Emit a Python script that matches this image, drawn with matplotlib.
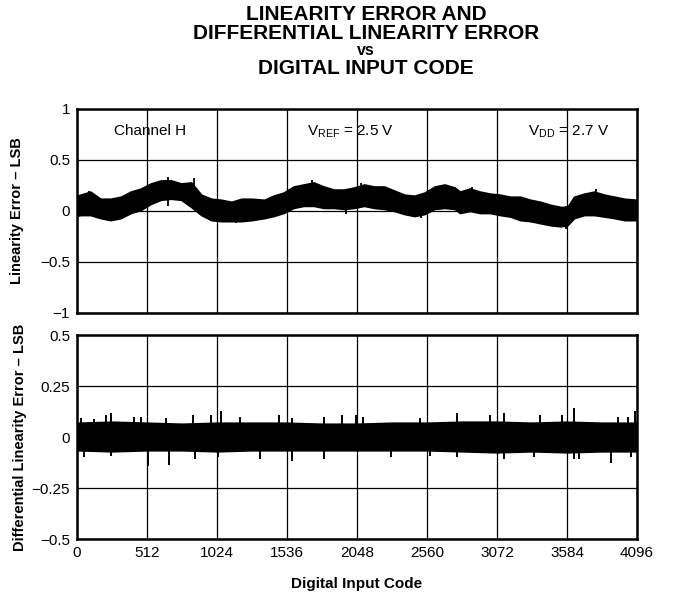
import numpy as np
import matplotlib.pyplot as plt
from matplotlib.patches import Rectangle

plt.rcParams['font.family'] = ['Liberation Sans', 'DejaVu Sans']
plt.rcParams['mathtext.fontset'] = 'custom'
plt.rcParams['mathtext.rm'] = 'Liberation Sans'

# Linearity error envelope
le_code = [0, 25, 98, 172, 246, 320, 393, 467, 540, 614, 688, 761, 835, 909,
           982, 1056, 1130, 1203, 1277, 1370, 1437, 1510, 1584, 1658, 1731,
           1805, 1879, 1952, 2026, 2100, 2173, 2247, 2321, 2395, 2468, 2542,
           2616, 2689, 2763, 2801, 2874, 2948, 3022, 3095, 3169, 3243, 3316,
           3390, 3464, 3537, 3587, 3636, 3710, 3783, 3857, 3931, 4005, 4095]
le_hi = [0.15, 0.16, 0.19, 0.12, 0.12, 0.14, 0.19, 0.22, 0.27, 0.30, 0.30,
         0.27, 0.28, 0.16, 0.12, 0.11, 0.09, 0.12, 0.12, 0.11, 0.15, 0.18,
         0.24, 0.26, 0.28, 0.24, 0.21, 0.21, 0.23, 0.26, 0.24, 0.24, 0.20,
         0.16, 0.15, 0.18, 0.24, 0.26, 0.23, 0.19, 0.22, 0.19, 0.17, 0.16,
         0.14, 0.14, 0.11, 0.09, 0.06, 0.04, 0.04, 0.14, 0.17, 0.19, 0.16,
         0.14, 0.12, 0.11]
le_lo = [-0.05, -0.04, -0.04, -0.07, -0.09, -0.07, -0.02, 0.01, 0.07, 0.11,
         0.12, 0.11, 0.04, -0.04, -0.09, -0.10, -0.10, -0.10, -0.09, -0.07,
         -0.05, -0.02, 0.03, 0.05, 0.05, 0.03, 0.03, 0.02, 0.03, 0.05, 0.03,
         0.02, 0.00, -0.03, -0.05, -0.03, 0.02, 0.03, 0.02, -0.02, 0.00,
         -0.02, -0.02, -0.04, -0.055, -0.09, -0.10, -0.12, -0.14, -0.15,
         -0.14, -0.07, -0.04, -0.04, -0.055, -0.07, -0.09, -0.09]
le_spike_code = [86, 668, 855, 1719, 2076, 2887, 3795, 3574, 3520, 1160, 250,
                 1965, 2517]
le_spike_val = [0.20, 0.33, 0.32, 0.30, 0.27, 0.24, 0.22, -0.18, -0.16,
                -0.12, -0.10, -0.03, -0.065]

# Differential linearity error band
dnl_code = [8, 256, 512, 768, 1024, 1280, 1536, 1792, 2048, 2304, 2560,
            2816, 3072, 3328, 3584, 3840, 4088]
dnl_hi = [0.07, 0.075, 0.07, 0.065, 0.07, 0.07, 0.07, 0.065, 0.065, 0.07,
          0.07, 0.075, 0.075, 0.07, 0.075, 0.07, 0.07]
dnl_lo = [-0.065, -0.07, -0.065, -0.065, -0.07, -0.065, -0.065, -0.065,
          -0.065, -0.065, -0.065, -0.07, -0.075, -0.07, -0.075, -0.07, -0.07]
dnl_spike_code = [29, 123, 209, 246, 418, 467, 651, 847, 982, 1056, 1191,
                  1474, 1572, 1805, 1940, 2038, 2089, 2506, 2776, 3022, 3120,
                  3390, 3550, 3636, 3955, 4029, 4083,
                  49, 246, 516, 675, 860, 1032, 1339, 1572, 1805, 2297, 2580,
                  2776, 3120, 3341, 3636, 3673, 3906, 4053]
dnl_spike_val = [0.094, 0.086, 0.11, 0.12, 0.10, 0.10, 0.094, 0.11, 0.11,
                 0.127, 0.10, 0.11, 0.094, 0.10, 0.11, 0.11, 0.10, 0.094,
                 0.12, 0.11, 0.12, 0.11, 0.11, 0.143, 0.10, 0.10, 0.127,
                 -0.10, -0.094, -0.143, -0.135, -0.11, -0.10, -0.11, -0.12,
                 -0.11, -0.10, -0.094, -0.10, -0.11, -0.10, -0.11, -0.11,
                 -0.126, -0.10]

x_ticks = [0, 512, 1024, 1536, 2048, 2560, 3072, 3584, 4096]
le_ticks = [1, 0.5, 0, -0.5, -1]
le_labels = ['1', '0.5', '0', '\u22120.5', '\u22121']
dnl_ticks = [0.5, 0.25, 0, -0.25, -0.5]
dnl_labels = ['0.5', '0.25', '0', '\u22120.25', '\u22120.5']

fig = plt.figure(figsize=(6.73, 5.92), dpi=100)
ax1 = fig.add_axes([0.1144, 0.4713, 0.8321, 0.3446])
ax2 = fig.add_axes([0.1144, 0.0895, 0.8321, 0.3446])

for ax in (ax1, ax2):
    ax.set_xlim(0, 4096)
    ax.set_xticks(x_ticks)
    ax.grid(True, color='black', linewidth=0.9)
    ax.set_axisbelow(True)
    ax.tick_params(length=0, labelsize=11, pad=5)
    for s in ax.spines.values():
        s.set_linewidth(1.8)

# top: linearity error
ax1.fill_between(le_code, le_lo, le_hi, color='black', linewidth=1.2)
ax1.vlines(le_spike_code, 0.05, le_spike_val, color='black', linewidth=1.3)
ax1.set_ylim(-1, 1)
ax1.set_yticks(le_ticks)
ax1.set_yticklabels(le_labels)
ax1.set_xticklabels([])
ax1.set_ylabel('Linearity Error \u2013 LSB', fontsize=10.5, fontweight='bold')
ax1.yaxis.set_label_coords(-0.094, 0.5)
ax1.add_patch(Rectangle((1548, 0.68), 140, 0.15, facecolor='white',
                        edgecolor='none', zorder=1.5))
ax1.text(538, 0.78, 'Channel H', fontsize=11, ha='center', va='center')
ax1.text(1680, 0.78, 'V$_{\\mathrm{REF}}$ = 2.5 V', fontsize=11,
         ha='left', va='center')
ax1.text(3890, 0.78, 'V$_{\\mathrm{DD}}$ = 2.7 V', fontsize=11, ha='right',
         va='center')

# bottom: differential linearity error
ax2.fill_between(dnl_code, dnl_lo, dnl_hi, color='black', linewidth=1.2)
ax2.vlines(dnl_spike_code, 0, dnl_spike_val, color='black', linewidth=1.4)
ax2.set_ylim(-0.5, 0.5)
ax2.set_yticks(dnl_ticks)
ax2.set_yticklabels(dnl_labels)
ax2.set_ylabel('Differential Linearity Error \u2013 LSB', fontsize=10.5,
               fontweight='bold')
ax2.yaxis.set_label_coords(-0.089, 0.5)
ax2.set_xlabel('Digital Input Code', fontsize=11, fontweight='bold',
               labelpad=12)

fig.text(0.544, 0.976, 'LINEARITY ERROR AND', ha='center', va='center',
         fontsize=15, fontweight='bold')
fig.text(0.544, 0.944, 'DIFFERENTIAL LINEARITY ERROR', ha='center',
         va='center', fontsize=15, fontweight='bold')
fig.text(0.544, 0.9155, 'vs', ha='center', va='center', fontsize=11.5,
         fontweight='bold')
fig.text(0.544, 0.885, 'DIGITAL INPUT CODE', ha='center', va='center',
         fontsize=15, fontweight='bold')

fig.savefig('out.png', dpi=100)
